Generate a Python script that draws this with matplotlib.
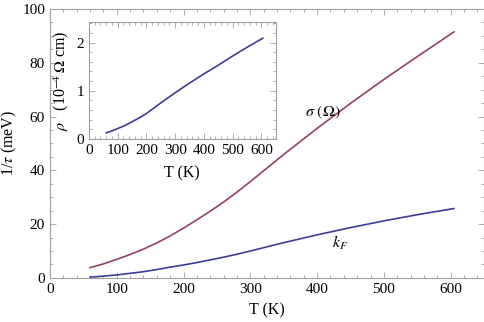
import matplotlib
matplotlib.use('Agg')
import matplotlib.pyplot as plt
from matplotlib.ticker import MultipleLocator

# Scattering rates vs temperature
temp = [60, 80, 100, 120, 140, 160, 180, 200, 220, 240, 260, 280, 300,
        350, 400, 450, 500, 550, 605]
rate_sigma = [3.8, 5.2, 6.9, 8.7, 10.7, 13.0, 15.6, 18.5, 21.6, 24.8, 28.2,
              31.9, 35.8, 45.9, 55.6, 64.9, 73.8, 82.3, 91.5]
rate_kf = [0.26, 0.65, 1.1, 1.7, 2.3, 3.1, 4.0, 4.8, 5.7, 6.7, 7.7,
           8.8, 10.0, 13.1, 16.0, 18.7, 21.2, 23.5, 25.8]

# Resistivity for the inset, in 1e-4 Ohm cm
temp_rho = [60, 80, 100, 125, 150, 175, 200, 225, 250, 275, 300,
            350, 400, 450, 500, 550, 605]
rho = [0.13, 0.17, 0.22, 0.28, 0.36, 0.44, 0.53, 0.64, 0.75, 0.855, 0.96,
       1.16, 1.35, 1.53, 1.72, 1.90, 2.09]

blue = '#3d3d99'
purple = '#993d71'
frame_col = '#a0a0a0'

plt.rcParams['font.family'] = ['Liberation Serif', 'DejaVu Serif']
plt.rcParams['mathtext.fontset'] = 'stix'


def style_frame(ax):
    """Mathematica-like frame: grey spines, inward ticks on all four sides."""
    for sp in ax.spines.values():
        sp.set_color(frame_col)
        sp.set_linewidth(0.8)
    ax.tick_params(which='both', direction='in', top=True, right=True,
                   color=frame_col, width=0.6, labelsize=11)
    ax.tick_params(which='major', length=4)
    ax.tick_params(which='minor', length=2)


fig = plt.figure(figsize=(4.85, 3.22), dpi=100)

ax = fig.add_axes([0.103, 0.137, 0.895, 0.835])
ax.plot(temp, rate_sigma, color=purple, lw=1.2)
ax.plot(temp, rate_kf, color=blue, lw=1.2)
ax.set_xlim(0, 650)
ax.set_ylim(0, 100)
ax.xaxis.set_major_locator(MultipleLocator(100))
ax.xaxis.set_minor_locator(MultipleLocator(20))
ax.yaxis.set_major_locator(MultipleLocator(20))
ax.yaxis.set_minor_locator(MultipleLocator(5))
style_frame(ax)
ax.set_xlabel('T (K)', fontsize=11.5, labelpad=5)
ax.set_ylabel(r'1/$\tau$ (meV)', fontsize=11.5, labelpad=2)
ax.text(408, 61.7, r'$\sigma\ (\Omega)$', fontsize=11.5, ha='center', va='center')
ax.text(434, 13, r'$k_F$', fontsize=11.5, ha='center', va='center')

ins = fig.add_axes([0.1835, 0.568, 0.385, 0.363])
ins.plot(temp_rho, rho, color=blue, lw=1.2)
ins.set_xlim(0, 650)
ins.set_ylim(0, 2.42)
ins.xaxis.set_major_locator(MultipleLocator(100))
ins.xaxis.set_minor_locator(MultipleLocator(20))
ins.yaxis.set_major_locator(MultipleLocator(1))
ins.yaxis.set_minor_locator(MultipleLocator(0.2))
style_frame(ins)
ins.set_xlabel('T (K)', fontsize=11.5, labelpad=6)
ins.set_ylabel(r'$\rho$   (10$^{-4}\,\Omega$ cm)', fontsize=11.5, labelpad=4)

fig.savefig('out.png', dpi=100)
